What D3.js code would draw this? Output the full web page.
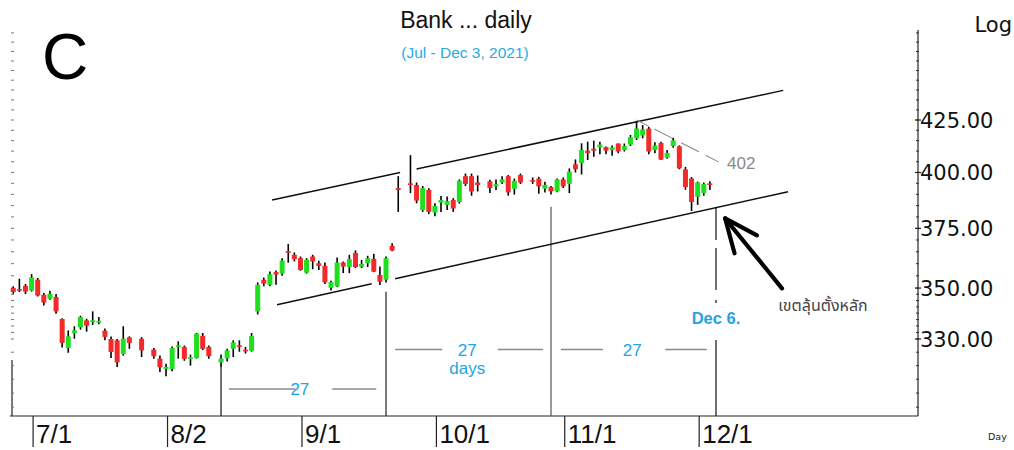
<!DOCTYPE html>
<html lang="th">
<head>
<meta charset="utf-8" />
<title>Bank ... daily</title>
<script src="https://cdn.jsdelivr.net/npm/d3@7"></script>
<style>
body { margin:0; background:#fff; }
svg { display:block; }
</style>
</head>
<body>
<div id="chart"></div>
<script type="text/javascript">
// daily bars, Jun 28 - Dec 3 2021 (SET holidays left as gaps)
var dates = ["2021-06-28","2021-06-29","2021-06-30",
  "2021-07-01","2021-07-02","2021-07-05","2021-07-06","2021-07-07","2021-07-08","2021-07-09","2021-07-12","2021-07-13","2021-07-14",
  "2021-07-15","2021-07-16","2021-07-19","2021-07-20","2021-07-21","2021-07-22","2021-07-23","2021-07-27","2021-07-29","2021-07-30",
  "2021-08-02","2021-08-03","2021-08-04","2021-08-05","2021-08-06","2021-08-09","2021-08-10","2021-08-11","2021-08-13","2021-08-16",
  "2021-08-17","2021-08-18","2021-08-19","2021-08-20","2021-08-23","2021-08-24","2021-08-25","2021-08-26","2021-08-27","2021-08-30","2021-08-31",
  "2021-09-01","2021-09-02","2021-09-03","2021-09-06","2021-09-07","2021-09-08","2021-09-09","2021-09-10","2021-09-13","2021-09-14",
  "2021-09-15","2021-09-16","2021-09-17","2021-09-20","2021-09-21","2021-09-22","2021-09-23","2021-09-27","2021-09-28","2021-09-29","2021-09-30",
  "2021-10-01","2021-10-04","2021-10-05","2021-10-06","2021-10-07","2021-10-08","2021-10-11","2021-10-12","2021-10-14","2021-10-15",
  "2021-10-18","2021-10-19","2021-10-20","2021-10-21","2021-10-25","2021-10-26","2021-10-27","2021-10-28","2021-10-29",
  "2021-11-01","2021-11-02","2021-11-03","2021-11-04","2021-11-05","2021-11-08","2021-11-09","2021-11-10","2021-11-11","2021-11-12",
  "2021-11-15","2021-11-16","2021-11-17","2021-11-18","2021-11-19","2021-11-22","2021-11-23","2021-11-24","2021-11-25","2021-11-26",
  "2021-11-29","2021-11-30","2021-12-01","2021-12-02","2021-12-03"];

var open = [350.0,349.6,350.9,
  349.0,353.4,347.3,345.7,346.4,337.7,326.6,332.3,334.5,337.2,336.5,336.3,333.2,330.0,329.5,324.3,330.6,330.1,326.0,322.6,
  318.8,318.8,327.0,327.0,322.5,322.8,331.2,327.0,321.2,322.7,326.3,327.6,325.9,325.5,340.7,353.4,351.3,356.5,355.9,365.2,363.7,
  362.3,356.3,363.0,360.2,359.1,350.1,350.7,360.5,358.6,364.5,358.8,360.2,362.0,355.3,353.4,367.5,392.8,395.0,394.3,383.0,392.0,
  381.9,386.3,385.3,387.5,386.6,398.3,398.3,395.4,395.9,393.6,395.4,398.3,392.5,398.8,396.5,397.2,392.6,393.3,391.4,
  396.8,394.8,403.8,404.4,410.2,411.1,411.7,411.9,410.5,413.6,410.5,413.1,416.1,417.5,420.8,410.5,413.9,406.9,412.4,412.3,401.4,397.2,
  388.9,390.6,395.0];
var high = [350.7,353.8,351.7,
  355.7,354.1,348.0,348.9,347.6,338.0,333.3,334.9,339.0,337.8,340.7,338.5,334.0,331.0,330.0,334.9,331.0,330.7,326.6,323.8,
  320.7,327.2,329.1,327.5,324.1,332.3,332.3,327.5,324.1,326.3,329.5,329.5,327.0,332.3,352.3,354.3,356.8,357.2,362.3,368.3,364.7,
  363.0,362.3,363.7,361.2,360.5,353.0,362.6,360.9,363.7,365.6,361.6,363.3,364.1,358.8,363.0,368.6,398.3,408.1,395.4,393.8,392.8,
  386.0,389.3,389.0,388.3,396.8,399.5,399.5,398.6,396.6,396.8,398.3,398.8,397.2,399.5,397.7,398.0,395.7,393.8,397.2,
  397.7,401.9,406.1,413.7,414.5,415.0,414.5,412.2,412.7,413.6,413.6,417.7,424.2,422.5,421.6,414.2,414.4,410.5,416.3,412.7,402.6,397.9,
  395.8,395.4,396.0];
var low = [347.7,348.4,347.6,
  348.6,346.6,343.0,345.3,339.8,326.8,324.8,330.1,333.6,332.8,335.4,335.7,329.5,322.8,319.5,323.7,326.3,323.2,322.6,317.7,
  316.1,317.9,322.6,321.8,320.0,322.6,325.8,322.6,319.4,321.5,323.2,325.2,324.5,325.2,339.5,350.7,350.7,351.3,355.0,360.4,360.9,
  357.1,355.9,357.7,357.4,351.6,349.0,350.4,356.1,356.1,358.2,358.2,358.6,356.5,351.2,352.3,365.2,382.2,390.6,386.0,382.2,381.2,
  380.3,382.2,383.0,382.2,385.9,393.8,389.4,391.3,390.6,392.0,394.7,389.4,389.9,394.7,394.7,390.3,390.9,389.9,391.0,
  392.9,390.6,400.0,399.1,405.8,407.3,408.5,408.5,407.8,409.0,409.8,412.4,415.3,416.1,408.5,409.0,405.8,406.4,411.6,401.5,392.1,382.6,
  385.3,389.4,392.0];
var close = [348.4,349.2,348.6,
  354.3,347.0,344.2,347.7,340.7,328.5,331.0,333.3,338.5,335.1,337.2,337.0,330.8,325.1,321.2,330.1,328.5,325.7,323.5,319.4,
  319.5,326.6,327.6,322.5,323.1,332.0,326.3,323.5,322.6,325.7,328.7,327.0,325.3,331.2,351.3,351.8,355.7,355.5,361.3,364.5,361.9,
  357.4,361.6,360.9,359.1,352.3,352.4,360.5,358.8,361.9,358.6,359.9,362.3,356.7,352.6,362.3,365.5,392.0,394.3,387.2,392.8,382.2,
  384.9,387.5,387.0,383.7,396.2,394.7,391.3,394.3,392.9,394.6,396.8,390.9,396.2,395.4,395.9,393.6,394.3,391.4,396.8,
  393.6,400.4,401.5,410.5,409.0,410.2,413.1,410.2,411.7,409.8,412.4,416.6,420.8,420.4,409.8,412.7,406.0,409.1,415.1,401.9,393.3,386.6,
  395.4,394.7,394.3];

var monthTicks = ["2021-07-01","2021-08-02","2021-09-01","2021-10-01","2021-11-01","2021-12-01"];
var monthLabels = ["7/1","8/2","9/1","10/1","11/1","12/1"];
var priceLabels = [330, 350, 375, 400, 425];

// trend channel: [weekday index, price] end points, gaps where candles cross
var upperLine = [[42.35, 387.5], [126.0, 439.8]];
var upperGaps = [[63.3, 66.0]];
var lowerLine = [[43.16, 343.3], [126.8, 391.2]];
var lowerGaps = [[58.66, 62.48]];
var targetLine = [[102.0, 425.0], [115.7, 404.5]];

// 27-day cycle markers
var cycleDates = ["2021-08-13", "2021-09-21", "2021-10-28", "2021-12-06"];
var cycleTops = [319.4, 348.5, 384.5, 384.4];
var spanRows = [
  {price: 311.5, segs: [[35.3, 46.2], [52.2, 59.4]], label: 46.9},
  {price: 326.0, segs: [[62.5, 70.2], [79.3, 86.7]], label: 74.3},
  {price: 326.0, segs: [[89.6, 96.5], [106.7, 113.5]], label: 101.3}
];

var W = 1014, H = 450;
var parse = d3.timeParse("%Y-%m-%d");
var start = parse("2021-06-28");
function wd(s) {
  var n = d3.timeDay.count(start, parse(s));
  return Math.floor(n / 7) * 5 + Math.min(n % 7, 5);
}

var x = d3.scaleLinear().domain([3, 115]).range([31.6, 716]);
var y = d3.scaleLog().domain([330, 425]).range([339, 120]);
var plotTop = 30, plotBottom = 416, axisX = 918;

var svg = d3.select("#chart").append("svg")
  .attr("width", W).attr("height", H)
  .style("font-family", "'Liberation Sans', Arial, sans-serif");

// titles
svg.append("text").attr("x", 466).attr("y", 28).attr("text-anchor", "middle")
  .attr("font-size", 23).attr("fill", "#111").text("Bank ... daily");
svg.append("text").attr("x", 465).attr("y", 58).attr("text-anchor", "middle")
  .attr("font-size", 15.5).attr("fill", "#29a9e1").text("(Jul - Dec 3, 2021)");
svg.append("text").attr("x", 42).attr("y", 79)
  .attr("font-size", 64).attr("fill", "#000").text("C");
svg.append("text").attr("x", 1012).attr("y", 32).attr("text-anchor", "end")
  .attr("font-family", "'DejaVu Sans', sans-serif").attr("font-size", 21).attr("fill", "#111").text("Log");
svg.append("text").attr("x", 988).attr("y", 440)
  .attr("font-family", "'DejaVu Sans', sans-serif").attr("font-size", 9.5).attr("fill", "#222").text("Day");

// frame and axes
var minor = d3.range(305, 330, 5).concat(d3.range(330, 350, 2.5), d3.range(350, 475, 5))
  .filter(function(p) { return y(p) >= plotTop && y(p) <= plotBottom; });
svg.append("line").attr("x1", 10).attr("x2", axisX).attr("y1", plotBottom).attr("y2", plotBottom)
  .attr("stroke", "#222").attr("stroke-width", 1.2);
svg.append("line").attr("x1", axisX).attr("x2", axisX).attr("y1", plotTop).attr("y2", plotBottom)
  .attr("stroke", "#222").attr("stroke-width", 1.2);
svg.append("line").attr("x1", 12).attr("x2", 12).attr("y1", 360).attr("y2", plotBottom)
  .attr("stroke", "#222").attr("stroke-width", 1.2);
svg.append("g").selectAll("line").data(minor).join("line")
  .attr("x1", 11).attr("x2", 14).attr("y1", function(p) { return y(p); }).attr("y2", function(p) { return y(p); })
  .attr("stroke", "#777").attr("stroke-width", 1);
svg.append("g").selectAll("line").data(minor).join("line")
  .attr("x1", axisX - 2).attr("x2", axisX + 1).attr("y1", function(p) { return y(p); }).attr("y2", function(p) { return y(p); })
  .attr("stroke", "#333").attr("stroke-width", 1);
svg.append("g").selectAll("line").data(priceLabels).join("line")
  .attr("x1", axisX - 3).attr("x2", axisX + 3).attr("y1", function(p) { return y(p); }).attr("y2", function(p) { return y(p); })
  .attr("stroke", "#222").attr("stroke-width", 1.2);
svg.append("g").selectAll("text").data(priceLabels).join("text")
  .attr("x", axisX + 2).attr("y", function(p) { return y(p) + 8; })
  .attr("font-family", "'DejaVu Sans', sans-serif").attr("font-size", 21).attr("fill", "#111")
  .text(d3.format(".2f"));

var mt = svg.append("g").selectAll("g").data(monthTicks).join("g")
  .attr("transform", function(d) { return "translate(" + (x(wd(d)) + 1.5) + ",0)"; });
mt.append("line").attr("y1", plotBottom).attr("y2", 447).attr("stroke", "#222").attr("stroke-width", 1.2);
mt.append("text").attr("x", 3).attr("y", 443)
  .attr("font-family", "'Liberation Sans Narrow', 'Arial Narrow', sans-serif")
  .attr("font-size", 26).attr("fill", "#111")
  .text(function(d, i) { return monthLabels[i]; });

// 27-day cycle lines
var cycleColor = ["#111", "#222", "#555", "#111"];
cycleDates.forEach(function(d, i) {
  var l = svg.append("line").attr("x1", x(wd(d))).attr("x2", x(wd(d)))
    .attr("y1", y(cycleTops[i])).attr("y2", plotBottom)
    .attr("stroke", cycleColor[i]).attr("stroke-width", 1.2);
  if (i == 3) l.attr("stroke-dasharray", "33 8 42 10 3 37 90");
});
spanRows.forEach(function(r) {
  r.segs.forEach(function(s) {
    svg.append("line").attr("x1", x(s[0])).attr("x2", x(s[1])).attr("y1", y(r.price)).attr("y2", y(r.price))
      .attr("stroke", "#8a8a8a").attr("stroke-width", 1.6);
  });
  svg.append("text").attr("x", x(r.label)).attr("y", y(r.price) + 6).attr("text-anchor", "middle")
    .attr("font-size", 17).attr("fill", "#22a4e4").text("27");
});
svg.append("text").attr("x", x(74.3)).attr("y", y(319.2) + 6).attr("text-anchor", "middle")
  .attr("font-size", 17).attr("fill", "#22a4e4").text("days");
svg.append("text").attr("x", x(wd("2021-12-06"))).attr("y", y(338.0) + 6).attr("text-anchor", "middle")
  .attr("font-size", 16.5).attr("font-weight", "bold").attr("fill", "#22a4e4").text("Dec 6.");

// channel
function segs(line, gaps) {
  var X0 = x(line[0][0]), Y0 = y(line[0][1]), X1 = x(line[1][0]), Y1 = y(line[1][1]);
  var yAt = function(X) { return Y0 + (Y1 - Y0) * (X - X0) / (X1 - X0); };
  var cuts = [X0];
  gaps.forEach(function(g) { cuts.push(x(g[0]), x(g[1])); });
  cuts.push(X1);
  var out = [];
  for (var k = 0; k < cuts.length; k += 2) out.push([cuts[k], yAt(cuts[k]), cuts[k + 1], yAt(cuts[k + 1])]);
  return out;
}
svg.append("g").selectAll("line").data(segs(upperLine, upperGaps).concat(segs(lowerLine, lowerGaps))).join("line")
  .attr("x1", function(s) { return s[0]; }).attr("y1", function(s) { return s[1]; })
  .attr("x2", function(s) { return s[2]; }).attr("y2", function(s) { return s[3]; })
  .attr("stroke", "#111").attr("stroke-width", 1.5);
svg.append("line")
  .attr("x1", x(targetLine[0][0])).attr("y1", y(targetLine[0][1]))
  .attr("x2", x(targetLine[1][0])).attr("y2", y(targetLine[1][1]))
  .attr("stroke", "#888").attr("stroke-width", 1.1).attr("stroke-dasharray", "14 6 22 8 20 8");
svg.append("text").attr("x", x(116.8)).attr("y", y(404.3) + 6)
  .attr("font-size", 17).attr("fill", "#8a8a8a").text("402");

// candles
var bars = svg.append("g").selectAll("g").data(dates).join("g")
  .attr("transform", function(d) { return "translate(" + x(wd(d)) + ",0)"; });
bars.append("line")
  .attr("y1", function(d, i) { return y(high[i]); }).attr("y2", function(d, i) { return y(low[i]); })
  .attr("stroke", "#000").attr("stroke-width", 1.6);
bars.append("rect")
  .attr("x", -2.5).attr("width", 5)
  .attr("y", function(d, i) { return y(Math.max(open[i], close[i])); })
  .attr("height", function(d, i) { return Math.max(1.6, Math.abs(y(open[i]) - y(close[i]))); })
  .attr("fill", function(d, i) { return close[i] >= open[i] ? "#1fe01f" : "#f22a2a"; });

// arrow to the Dec 6 low
var tip = [x(116.5), y(379.3)], tail = [x(125.8), y(349.9)];
var ang = Math.atan2(tail[1] - tip[1], tail[0] - tip[0]);
var arrow = svg.append("g").attr("stroke", "#000").attr("stroke-width", 4.2).attr("stroke-linecap", "round").attr("fill", "none");
arrow.append("line").attr("x1", tail[0]).attr("y1", tail[1]).attr("x2", tip[0]).attr("y2", tip[1]);
[-0.4, 0.42].forEach(function(da) {
  arrow.append("line").attr("x1", tip[0]).attr("y1", tip[1])
    .attr("x2", tip[0] + 36 * Math.cos(ang + da)).attr("y2", tip[1] + 36 * Math.sin(ang + da));
});
svg.append("text").attr("x", x(125.2)).attr("y", y(343.3) + 6)
  .attr("font-family", "'Noto Sans Thai', Tahoma, 'DejaVu Sans', sans-serif")
  .attr("font-size", 16).attr("fill", "#444").text("เขตลุ้นตั้งหลัก");
</script>
</body>
</html>
